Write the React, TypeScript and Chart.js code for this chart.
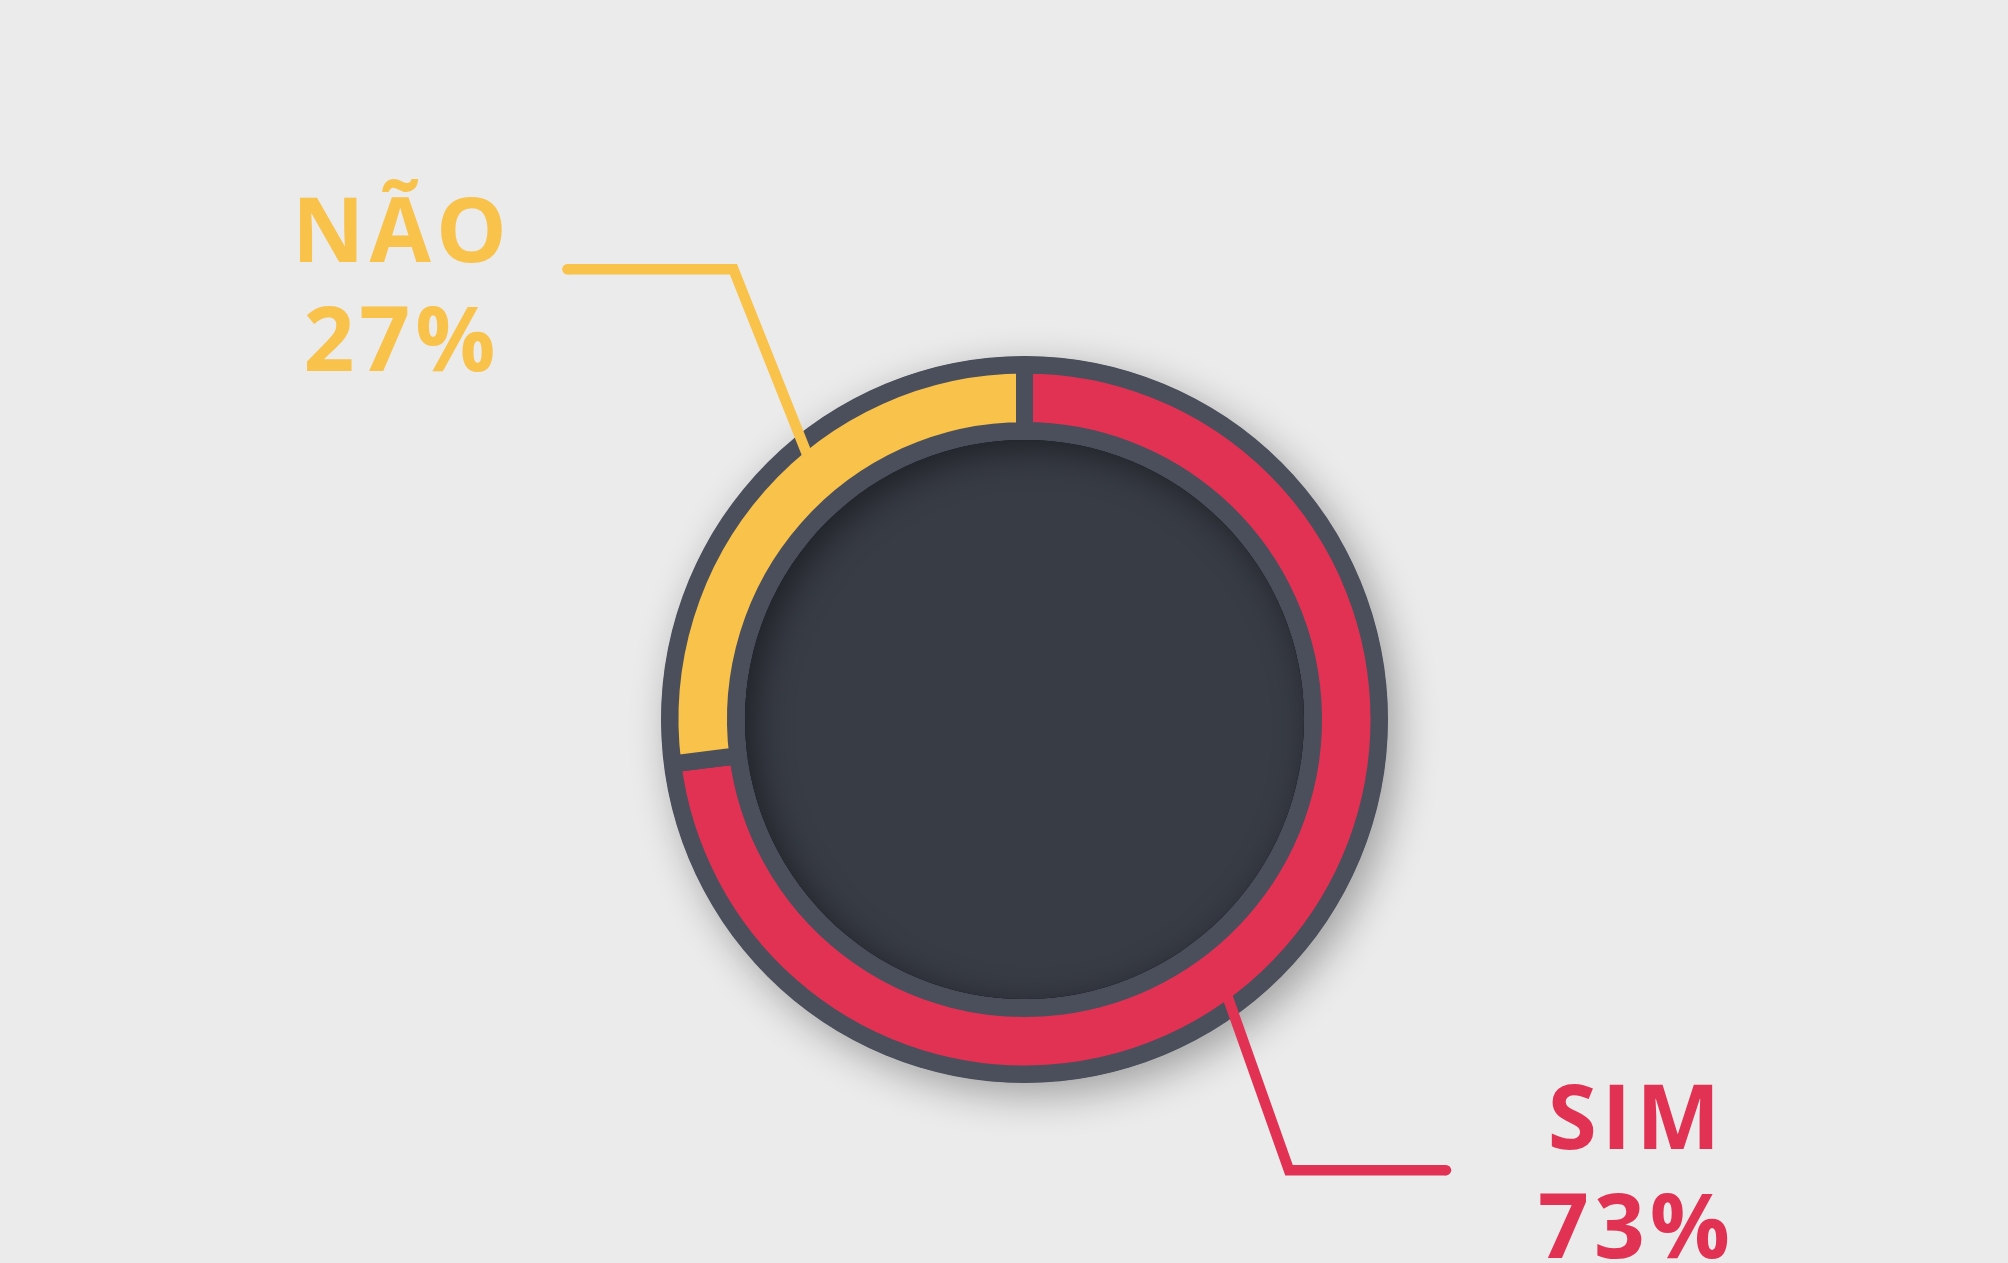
import React, { useEffect, useRef } from "react";
import { Chart, registerables } from "chart.js";

Chart.register(...registerables);

// ---- data ----
const categories = ["SIM", "NÃO"];
const values = [73, 27];
const sliceColors = ["#E23254", "#F8C24B"];

// ---- styling / layout ----
const W = 2008;
const H = 1263;
const BG = "#EBEBEB";
const RING = "#4A4F5B";
const CORE = "#383C45";
const OUTER_R = 363.5;
const CORE_R = 279.5;
const GAP = 17;
const FONT = '700 89px "Open Sans", "DejaVu Sans", sans-serif';

// leader-line layout per slice (degrees offset from slice middle, elbow offset, horizontal run)
const leaderAngleOffset = [12.3, 9.2];
const leaderElbow = [
  [62, 175],
  [-74, -186],
];
const leaderRun = [157, -166];
const labelDx = [188, -168];
const labelDy = [
  [-21, 88],
  [-7, 102],
];

const decor = {
  id: "decor",
  beforeDatasetsDraw(chart: any) {
    const meta = chart.getDatasetMeta(0);
    const a = meta.data[0];
    if (!a) return;
    const { x, y } = a;
    const ctx = chart.ctx;
    ctx.save();
    ctx.shadowColor = "rgba(0,0,0,0.32)";
    ctx.shadowBlur = 40;
    ctx.shadowOffsetX = 10;
    ctx.shadowOffsetY = 12;
    ctx.beginPath();
    ctx.arc(x, y, OUTER_R, 0, Math.PI * 2);
    ctx.fillStyle = RING;
    ctx.fill();
    ctx.restore();
  },
  afterDatasetsDraw(chart: any) {
    const meta = chart.getDatasetMeta(0);
    const a0 = meta.data[0];
    if (!a0) return;
    const { x, y } = a0;
    const ctx = chart.ctx;

    // inner core disk
    ctx.save();
    ctx.beginPath();
    ctx.arc(x, y, CORE_R, 0, Math.PI * 2);
    ctx.fillStyle = CORE;
    ctx.fill();
    ctx.clip();
    ctx.beginPath();
    ctx.arc(x, y, CORE_R + 120, 0, Math.PI * 2);
    ctx.arc(x, y, CORE_R, 0, Math.PI * 2, true);
    ctx.shadowColor = "rgba(0,0,0,0.45)";
    ctx.shadowBlur = 36;
    ctx.shadowOffsetX = 9;
    ctx.shadowOffsetY = 9;
    ctx.fillStyle = "#000";
    ctx.fill();
    ctx.restore();

    // leader lines and labels
    meta.data.forEach((arc: any, i: number) => {
      const mid = (arc.startAngle + arc.endAngle) / 2 + (leaderAngleOffset[i] * Math.PI) / 180;
      const r = arc.outerRadius - GAP / 2 - 4;
      const px = x + Math.cos(mid) * r;
      const py = y + Math.sin(mid) * r;
      const ex = px + leaderElbow[i][0];
      const ey = py + leaderElbow[i][1];
      const dx = ex + leaderRun[i];
      const dy = ey;
      const color = sliceColors[i];
      ctx.save();
      ctx.strokeStyle = color;
      ctx.lineWidth = 10.5;
      ctx.lineJoin = "miter";
      ctx.lineCap = "butt";
      ctx.beginPath();
      ctx.moveTo(px, py);
      ctx.lineTo(ex, ey);
      ctx.lineTo(dx, dy);
      ctx.stroke();
      ctx.beginPath();
      ctx.arc(dx, dy, 5.25, 0, Math.PI * 2);
      ctx.fillStyle = color;
      ctx.fill();

      ctx.font = FONT;
      (ctx as any).letterSpacing = "5px";
      ctx.textAlign = "center";
      ctx.textBaseline = "alphabetic";
      ctx.fillStyle = color;
      const tx = dx + labelDx[i] + 2.5;
      ctx.fillText(categories[i], tx, dy + labelDy[i][0]);
      ctx.fillText(`${values[i]}%`, tx, dy + labelDy[i][1]);
      ctx.restore();
    });
  },
};

export default function App() {
  const ref = useRef<HTMLCanvasElement | null>(null);

  useEffect(() => {
    document.body.style.margin = "0";
    document.body.style.background = BG;
    let chart: Chart | null = null;
    let cancelled = false;
    const make = () => {
      if (cancelled || !ref.current) return;
      chart = new Chart(ref.current, {
        type: "doughnut",
        data: {
          labels: categories,
          datasets: [
            {
              data: values,
              backgroundColor: sliceColors,
              borderColor: RING,
              borderWidth: GAP,
              borderAlign: "center",
              hoverOffset: 0,
            } as any,
          ],
        },
        options: {
          responsive: false,
          animation: false,
          devicePixelRatio: 1,
          events: [],
          radius: 346 + GAP / 2,
          cutout: `${((297.5 - GAP / 2) / (346 + GAP / 2)) * 100}%`,
          rotation: 0,
          circumference: 360,
          layout: { padding: { left: 41, right: 0, top: 176, bottom: 0 } },
          plugins: {
            legend: { display: false },
            tooltip: { enabled: false },
          },
        } as any,
        plugins: [decor],
      });
    };
    const fonts: any = (document as any).fonts;
    if (fonts && fonts.load) {
      fonts.load(FONT).then(make, make);
    } else {
      make();
    }
    return () => {
      cancelled = true;
      if (chart) chart.destroy();
    };
  }, []);

  return (
    <div style={{ width: W, height: H, background: BG }}>
      <canvas ref={ref} width={W} height={H} style={{ display: "block", width: W, height: H }} />
    </div>
  );
}
